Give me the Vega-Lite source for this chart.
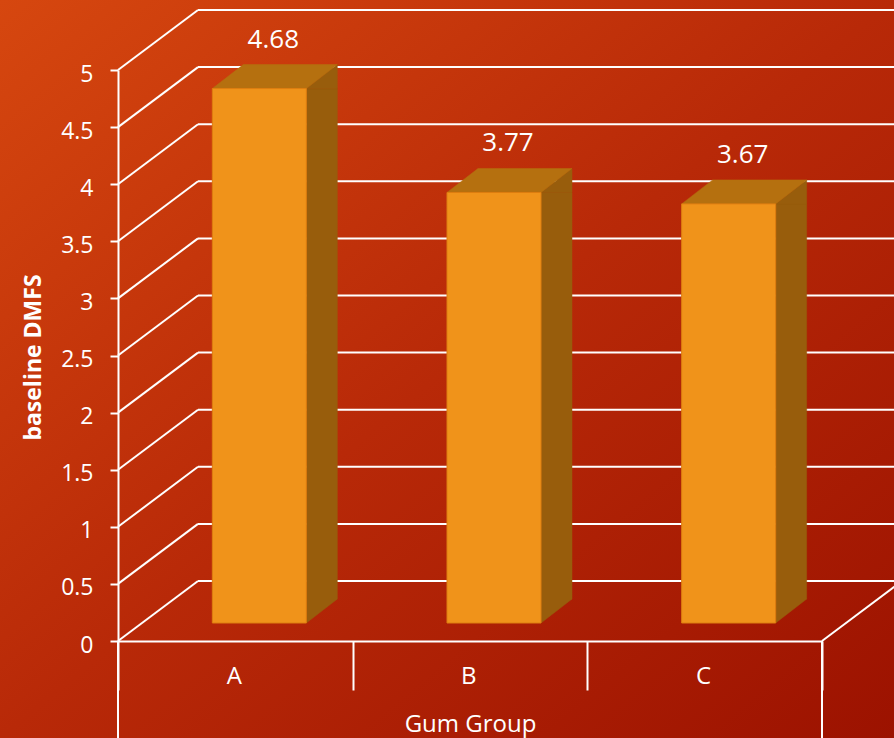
{
  "$schema": "https://vega.github.io/schema/vega-lite/v6.json",
  "width": 894,
  "height": 738,
  "autosize": {"type": "none"},
  "padding": 0,
  "background": "#B42807",
  "config": {
    "view": {
      "stroke": null,
      "fill": {
        "gradient": "linear",
        "x1": 0, "y1": 0, "x2": 1, "y2": 1,
        "stops": [
          {"offset": 0, "color": "#D6470F"},
          {"offset": 0.5, "color": "#B82908"},
          {"offset": 1, "color": "#9C1200"}
        ]
      }
    },
    "font": "Open Sans",
    "axis": {"grid": false}
  },
  "datasets": {
    "gum": [
      {"group": "A", "dmfs": 4.68},
      {"group": "B", "dmfs": 3.77},
      {"group": "C", "dmfs": 3.67}
    ],
    "ticks": [
      {"v": 0}, {"v": 0.5}, {"v": 1}, {"v": 1.5}, {"v": 2}, {"v": 2.5},
      {"v": 3}, {"v": 3.5}, {"v": 4}, {"v": 4.5}, {"v": 5}
    ],
    "one": [{}]
  },
  "layer": [
    {
      "description": "back wall lines of the 3-D grid",
      "data": {"name": "ticks"},
      "mark": {"type": "rule", "color": "white", "strokeWidth": 2, "xOffset": 80, "yOffset": -60, "x2Offset": 80},
      "encoding": {
        "x": {"datum": "A", "type": "nominal", "bandPosition": 0, "title": "Gum Group"},
        "x2": {"datum": "C", "bandPosition": 1},
        "y": {"field": "v", "type": "quantitative", "title": "baseline DMFS"}
      }
    },
    {
      "description": "side wall diagonals joining the axis ticks to the back wall",
      "data": {"name": "ticks"},
      "mark": {"type": "rule", "color": "white", "strokeWidth": 2, "x2Offset": 80, "y2Offset": -60},
      "encoding": {
        "x": {"datum": "A", "type": "nominal", "bandPosition": 0, "title": "Gum Group"},
        "x2": {"datum": "A", "bandPosition": 0},
        "y": {"field": "v", "type": "quantitative", "title": "baseline DMFS"},
        "y2": {"field": "v"}
      }
    },
    {
      "description": "right edge of the floor",
      "data": {"name": "one"},
      "mark": {"type": "rule", "color": "white", "strokeWidth": 2, "x2Offset": 80, "y2Offset": -60},
      "encoding": {
        "x": {"datum": "C", "type": "nominal", "bandPosition": 1, "title": "Gum Group"},
        "x2": {"datum": "C", "bandPosition": 1},
        "y": {"datum": 0, "type": "quantitative", "title": "baseline DMFS"},
        "y2": {"datum": 0}
      }
    },
    {
      "description": "outer edges of the category axis box",
      "data": {"name": "one"},
      "mark": {"type": "rule", "color": "white", "strokeWidth": 2},
      "encoding": {
        "x": {"datum": "A", "type": "nominal", "bandPosition": 0, "title": "Gum Group"},
        "y": {"datum": 0, "type": "quantitative", "title": "baseline DMFS"},
        "y2": {"value": "height"}
      }
    },
    {
      "data": {"name": "one"},
      "mark": {"type": "rule", "color": "white", "strokeWidth": 2},
      "encoding": {
        "x": {"datum": "C", "type": "nominal", "bandPosition": 1, "title": "Gum Group"},
        "y": {"datum": 0, "type": "quantitative", "title": "baseline DMFS"},
        "y2": {"value": "height"}
      }
    },
    {
      "description": "bar side faces",
      "data": {"name": "gum"},
      "mark": {"type": "bar", "width": 31, "xOffset": 86.5, "yOffset": -18, "y2Offset": -42, "fill": "#985D0C", "stroke": "#985D0C", "strokeWidth": 0.5},
      "encoding": {
        "x": {"field": "group", "type": "nominal", "title": "Gum Group"},
        "y": {"field": "dmfs", "type": "quantitative", "title": "baseline DMFS"},
        "y2": {"datum": 0}
      }
    },
    {
      "data": {"name": "gum"},
      "mark": {"type": "point", "shape": "M47,0L78,-24L78,0Z", "size": 4, "filled": true, "opacity": 1, "fill": "#985D0C", "stroke": "#985D0C", "strokeWidth": 0.5, "xOffset": 24, "yOffset": -18},
      "encoding": {
        "x": {"field": "group", "type": "nominal", "title": "Gum Group"},
        "y": {"field": "dmfs", "type": "quantitative", "title": "baseline DMFS"}
      }
    },
    {
      "data": {"name": "gum"},
      "mark": {"type": "point", "shape": "M47,-24L47,0L78,-24Z", "size": 4, "filled": true, "opacity": 1, "fill": "#985D0C", "stroke": "#985D0C", "strokeWidth": 0.5, "xOffset": 24, "yOffset": -18},
      "encoding": {
        "x": {"field": "group", "type": "nominal", "title": "Gum Group"},
        "y": {"datum": 0, "type": "quantitative", "title": "baseline DMFS"}
      }
    },
    {
      "description": "bar top faces",
      "data": {"name": "gum"},
      "mark": {"type": "point", "shape": "M-47,0L47,0L78,-24L-16,-24Z", "size": 4, "filled": true, "opacity": 1, "fill": "#B5700F", "stroke": "#B5700F", "strokeWidth": 0.5, "xOffset": 24, "yOffset": -18},
      "encoding": {
        "x": {"field": "group", "type": "nominal", "title": "Gum Group"},
        "y": {"field": "dmfs", "type": "quantitative", "title": "baseline DMFS"}
      }
    },
    {
      "description": "bar front faces; carries the axes",
      "data": {"name": "gum"},
      "mark": {"type": "bar", "width": 94, "xOffset": 24, "yOffset": -18, "y2Offset": -18, "fill": "#F0931A", "stroke": "#DE7E10", "strokeWidth": 1},
      "encoding": {
        "x": {
          "field": "group", "type": "nominal", "title": "Gum Group",
          "scale": {"domain": ["A", "B", "C"], "range": [118, 822], "paddingInner": 0, "paddingOuter": 0},
          "axis": {
            "offset": -97,
            "labelAngle": 0,
            "domainColor": "white", "domainWidth": 2,
            "tickColor": "white", "tickWidth": 2, "tickSize": 49, "tickBand": "extent",
            "labelColor": "white", "labelFontSize": 24, "labelFont": "Open Sans",
            "labelBaseline": "alphabetic", "labelPadding": -7, "labelOffset": 6,
            "titleColor": "white", "titleFontSize": 24, "titleFontWeight": "normal", "titleFont": "Open Sans",
            "titleBaseline": "alphabetic", "titleY": 90
          }
        },
        "y": {
          "field": "dmfs", "type": "quantitative", "title": "baseline DMFS",
          "scale": {"domain": [0, 5], "range": [641, 70], "nice": false, "zero": true},
          "axis": {
            "offset": -118,
            "values": [0, 0.5, 1, 1.5, 2, 2.5, 3, 3.5, 4, 4.5, 5],
            "format": "~g",
            "domainColor": "white", "domainWidth": 2,
            "tickColor": "white", "tickWidth": 2, "tickSize": 8,
            "labelColor": "white", "labelFontSize": 23, "labelFont": "Open Sans",
            "labelPadding": 17, "labelBaseline": "middle", "labelOffset": 4,
            "titleColor": "white", "titleFontSize": 23, "titleFontWeight": "bold", "titleFont": "Open Sans",
            "titleAngle": 270, "titleAlign": "center", "titleBaseline": "middle",
            "titleX": -85, "titleY": 357
          }
        },
        "y2": {"datum": 0}
      }
    },
    {
      "description": "value labels",
      "data": {"name": "gum"},
      "mark": {"type": "text", "color": "white", "fontSize": 26, "font": "Open Sans", "baseline": "alphabetic", "align": "center", "dx": 38, "dy": -59},
      "encoding": {
        "x": {"field": "group", "type": "nominal", "title": "Gum Group"},
        "y": {"field": "dmfs", "type": "quantitative", "title": "baseline DMFS"},
        "text": {"field": "dmfs", "type": "quantitative", "format": ".2f"}
      }
    }
  ]
}
